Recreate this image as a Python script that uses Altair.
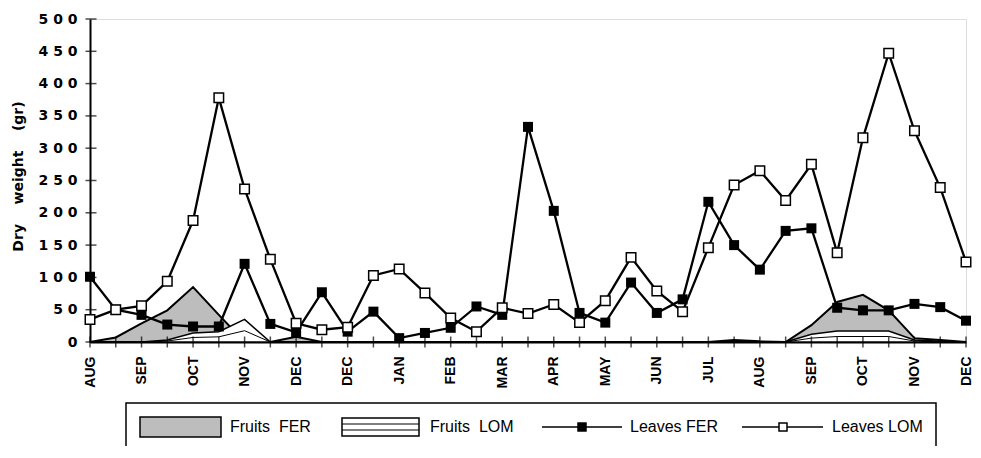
import altair as alt
import pandas as pd

# ---- data ----
months = ["AUG", "SEP", "OCT", "NOV", "DEC", "DEC", "JAN", "FEB", "MAR",
          "APR", "MAY", "JUN", "JUL", "AUG", "SEP", "OCT", "NOV", "DEC"]

leaves_fer = [101, 50, 42, 27, 24, 24, 121, 28, 15, 77, 16, 47, 6, 14, 22, 55, 42, 333,
              203, 45, 30, 92, 45, 66, 217, 150, 112, 172, 176, 53, 49, 49, 59, 54, 33]
leaves_lom = [35, 50, 56, 94, 188, 378, 237, 128, 29, 19, 23, 103, 113, 76, 37, 16, 53, 44,
              58, 30, 64, 131, 79, 47, 146, 243, 265, 219, 275, 138, 316, 447, 327, 239, 124]
fruits_fer = [0, 7, 29, 49, 85, 42, 0, 0, 8, 0, 0, 0, 0, 0, 0, 0, 0, 0,
              0, 0, 0, 0, 0, 0, 0, 3, 1, 0, 26, 62, 73, 49, 6, 3, 0]
fruits_lom = [0, 0, 0, 3, 14, 16, 35, 0, 0, 0, 0, 0, 0, 0, 0, 0, 0, 0,
              0, 0, 0, 0, 0, 0, 0, 0, 0, 0, 12, 17, 17, 17, 3, 1, 0]
y_ticks = [0, 50, 100, 150, 200, 250, 300, 350, 400, 450, 500]
legend_labels = ["Fruits\u00a0\u00a0FER", "Fruits\u00a0\u00a0LOM", "Leaves FER", "Leaves LOM"]

idx = list(range(len(leaves_fer)))
df = pd.DataFrame({
    "i": idx,
    "leaves_fer": leaves_fer,
    "leaves_lom": leaves_lom,
    "fruits_fer": fruits_fer,
    "fruits_lom": fruits_lom,
})
ticks_df = pd.DataFrame({"v": y_ticks})
one = pd.DataFrame({"k": [0]})

W, H = 876, 323
SP = "\u00a0" * 4

month_arr = "[" + ",".join("'%s'" % m for m in months) + "]"
x_enc = alt.X(
    "i:Q",
    scale=alt.Scale(domain=[0, len(idx) - 1], nice=False, zero=False),
    axis=alt.Axis(
        values=idx, title=None, ticks=False, grid=False,
        domainColor="black", domainWidth=2,
        labelExpr="datum.value % 2 == 0 ? " + month_arr + "[datum.value / 2] : ''",
        labelAngle=-90, labelAlign="right", labelBaseline="middle",
        labelPadding=14, labelOverlap=False, labelFlush=False,
        labelFont="Liberation Sans", labelFontWeight="bold", labelFontSize=14,
        labelColor="black",
    ),
)


def y_enc(field):
    return alt.Y(
        field,
        scale=alt.Scale(domain=[0, 500], nice=False),
        axis=alt.Axis(
            values=y_ticks, ticks=False, grid=False,
            domainColor="black", domainWidth=2,
            labelExpr="join(split(datum.label, ''), '\u00a0')",
            labelPadding=13, labelFont="DejaVu Sans", labelFontWeight="bold",
            labelFontSize=14, labelColor="black",
            title="Dry" + SP + "weight" + SP + "(gr)",
            titleFont="DejaVu Sans", titleFontWeight="bold", titleFontSize=14,
            titleColor="black", titleX=-72, titleY=157, titleAngle=-90,
            titleAlign="center", titleBaseline="middle",
        ),
    )


base = alt.Chart(df)

area_fer = base.mark_area(fill="#bdbdbd", stroke="black", strokeWidth=2).encode(
    x=x_enc, y=y_enc("fruits_fer:Q"))
area_lom = base.mark_area(fill="white", stroke="black", strokeWidth=1.5).encode(
    x=x_enc, y=y_enc("fruits_lom:Q"))
# horizontal hatch inside the Fruits LOM area
hatch_lom = base.transform_calculate(h="datum.fruits_lom * 0.5").mark_line(
    color="black", strokeWidth=1).encode(x=x_enc, y=y_enc("h:Q"))
line_fer = base.mark_line(color="black", strokeWidth=2.3).encode(
    x=x_enc, y=y_enc("leaves_fer:Q"))
line_lom = base.mark_line(color="black", strokeWidth=2.3).encode(
    x=x_enc, y=y_enc("leaves_lom:Q"))
pts_fer = base.mark_square(size=100, color="black", opacity=1).encode(
    x=x_enc, y=y_enc("leaves_fer:Q"))
pts_lom = base.mark_square(size=90, fill="white", stroke="black", strokeWidth=1.5,
                           opacity=1, fillOpacity=1).encode(
    x=x_enc, y=y_enc("leaves_lom:Q"))

x_ticks = base.mark_tick(color="black", size=11, thickness=1.5, orient="vertical").encode(
    x=x_enc, y=alt.value(H))
y_tick_marks = alt.Chart(ticks_df).mark_tick(
    color="black", size=11, thickness=1.5, orient="horizontal").encode(
    y=y_enc("v:Q"), x=alt.value(1))

# ---- legend (drawn below the plot) ----
lg = alt.Chart(one)
box = lg.mark_rect(fill="white", stroke="black", strokeWidth=1.5).encode(
    x=alt.value(36), x2=alt.value(846), y=alt.value(384), y2=alt.value(470))
sw1 = lg.mark_rect(fill="#bdbdbd", stroke="black", strokeWidth=1.5).encode(
    x=alt.value(50), x2=alt.value(131), y=alt.value(398), y2=alt.value(418))
sw2 = lg.mark_rect(fill="white", stroke="black", strokeWidth=1.5).encode(
    x=alt.value(252), x2=alt.value(329), y=alt.value(399), y2=alt.value(417))
sw2a = lg.mark_rule(color="black", strokeWidth=1.2).encode(
    x=alt.value(252), x2=alt.value(329), y=alt.value(405))
sw2b = lg.mark_rule(color="black", strokeWidth=1.2).encode(
    x=alt.value(252), x2=alt.value(329), y=alt.value(411))
ln3 = lg.mark_rule(color="black", strokeWidth=1.5).encode(
    x=alt.value(452), x2=alt.value(532), y=alt.value(408))
sq3 = lg.mark_square(size=90, color="black", opacity=1).encode(
    x=alt.value(492), y=alt.value(408))
ln4 = lg.mark_rule(color="black", strokeWidth=1.5).encode(
    x=alt.value(652), x2=alt.value(733), y=alt.value(408))
sq4 = lg.mark_square(size=64, fill="white", stroke="black", strokeWidth=1.5,
                     opacity=1, fillOpacity=1).encode(
    x=alt.value(693), y=alt.value(408))
texts = []
for lab, tx in zip(legend_labels, [140, 340, 540, 742]):
    texts.append(lg.mark_text(align="left", baseline="middle", font="Liberation Sans",
                              fontSize=16, color="black").encode(
        x=alt.value(tx), y=alt.value(408), text=alt.value(lab)))

chart = alt.layer(
    area_fer, area_lom, hatch_lom, line_fer, line_lom, pts_fer, pts_lom,
    x_ticks, y_tick_marks,
    box, sw1, sw2, sw2a, sw2b, ln3, sq3, ln4, sq4, *texts,
).properties(
    width=W, height=H,
    autosize=alt.AutoSizeParams(type="none"),
    padding={"left": 82, "top": 11, "right": 7, "bottom": 104},
).configure_view(stroke=None).configure(background="white")

chart.save("out.html", embed_options={"renderer": "svg", "actions": False})
